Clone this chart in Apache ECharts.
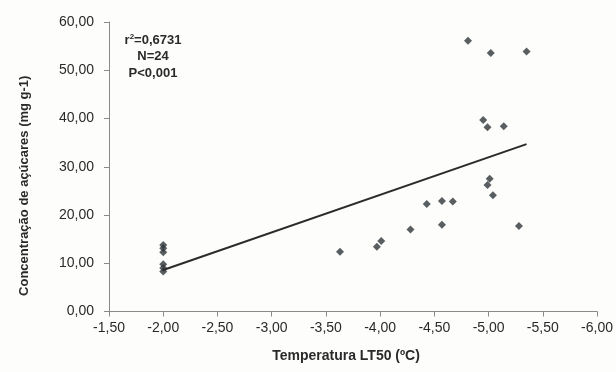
<!DOCTYPE html>
<html>
<head>
<meta charset="utf-8">
<script src="https://cdn.jsdelivr.net/npm/echarts@6/dist/echarts.min.js"></script>
<style>
  html, body { margin: 0; padding: 0; background: #fdfdfc; }
  #chart { width: 616px; height: 372px; }
</style>
</head>
<body>
<div id="chart"></div>
<script>
// LT50 temperature (ºC) and sugar concentration (mg g-1)
const temperatura = [
  -2.0, -2.0, -2.0, -2.0, -2.0, -2.0,
  -3.63, -3.97, -4.01, -4.28, -4.43, -4.57, -4.57, -4.67,
  -4.81, -4.95, -4.99, -4.99, -5.01, -5.02, -5.04, -5.14, -5.28, -5.35
];
const acucares = [
  13.8, 13.1, 12.3, 9.8, 9.0, 8.3,
  12.4, 13.4, 14.6, 17.0, 22.3, 22.9, 18.0, 22.8,
  56.1, 39.7, 38.2, 26.2, 27.5, 53.6, 24.1, 38.4, 17.7, 53.9
];
// fitted regression line endpoints
const retaX = [-2.0, -5.35];
const retaY = [8.6, 34.7];
const estatisticas = ["=0,6731", "N=24", "P<0,001"];

const fmt = v => v.toFixed(2).replace(".", ",");
const font = "'Liberation Sans', Arial, sans-serif";

const chart = echarts.init(document.getElementById("chart"));

const statStyle = { fontFamily: font, fontWeight: "bold", fontSize: 13, fill: "#2a2a2a", align: "center" };

chart.setOption({
  backgroundColor: "#fdfdfc",
  animation: false,
  grid: { left: 109, right: 16, top: 22, bottom: 60.5 },
  xAxis: {
    type: "value",
    inverse: true,
    min: -6,
    max: -1.5,
    interval: 0.5,
    name: "Temperatura LT50 (ºC)",
    nameLocation: "middle",
    nameGap: 38,
    nameTextStyle: { fontFamily: font, fontWeight: "bold", fontSize: 14, color: "#2a2a2a", padding: [0, 14, 0, 0] },
    axisLine: { lineStyle: { color: "#8a8a8a", width: 1 } },
    axisTick: { show: true, length: 5, lineStyle: { color: "#8a8a8a" } },
    axisLabel: { formatter: fmt, margin: 10, fontFamily: font, fontSize: 14, color: "#2a2a2a" },
    splitLine: { show: false }
  },
  yAxis: {
    type: "value",
    min: 0,
    max: 60,
    interval: 10,
    name: "Concentração de açúcares (mg g-1)",
    nameLocation: "middle",
    nameGap: 78,
    nameTextStyle: { fontFamily: font, fontWeight: "bold", fontSize: 13, color: "#2a2a2a", padding: [0, 38, 0, 0] },
    axisLine: { show: true, lineStyle: { color: "#8a8a8a", width: 1 } },
    axisTick: { show: true, length: 5, lineStyle: { color: "#8a8a8a" } },
    axisLabel: { formatter: fmt, margin: 15, fontFamily: font, fontSize: 14, color: "#2a2a2a" },
    splitLine: { show: false }
  },
  graphic: [
    {
      type: "text",
      x: 153, y: 33,
      style: {
        text: "{r|r}{sup|2}{b|" + estatisticas[0] + "}",
        align: "center",
        rich: {
          r: statStyle,
          sup: Object.assign({}, statStyle, { fontSize: 8, verticalAlign: "top", padding: [0, 0, 6, 0] }),
          b: statStyle
        }
      }
    },
    {
      type: "text",
      x: 153, y: 50,
      style: Object.assign({}, statStyle, { text: estatisticas[1], align: "center" })
    },
    {
      type: "text",
      x: 153, y: 67,
      style: Object.assign({}, statStyle, { text: estatisticas[2], align: "center" })
    }
  ],
  series: [
    {
      type: "scatter",
      symbol: "diamond",
      symbolSize: 8,
      itemStyle: { color: "#30363a" },
      data: temperatura.map((t, i) => [t, acucares[i]])
    },
    {
      type: "line",
      showSymbol: false,
      lineStyle: { color: "#2b2b2b", width: 2 },
      data: retaX.map((t, i) => [t, retaY[i]])
    }
  ]
});
</script>
</body>
</html>
